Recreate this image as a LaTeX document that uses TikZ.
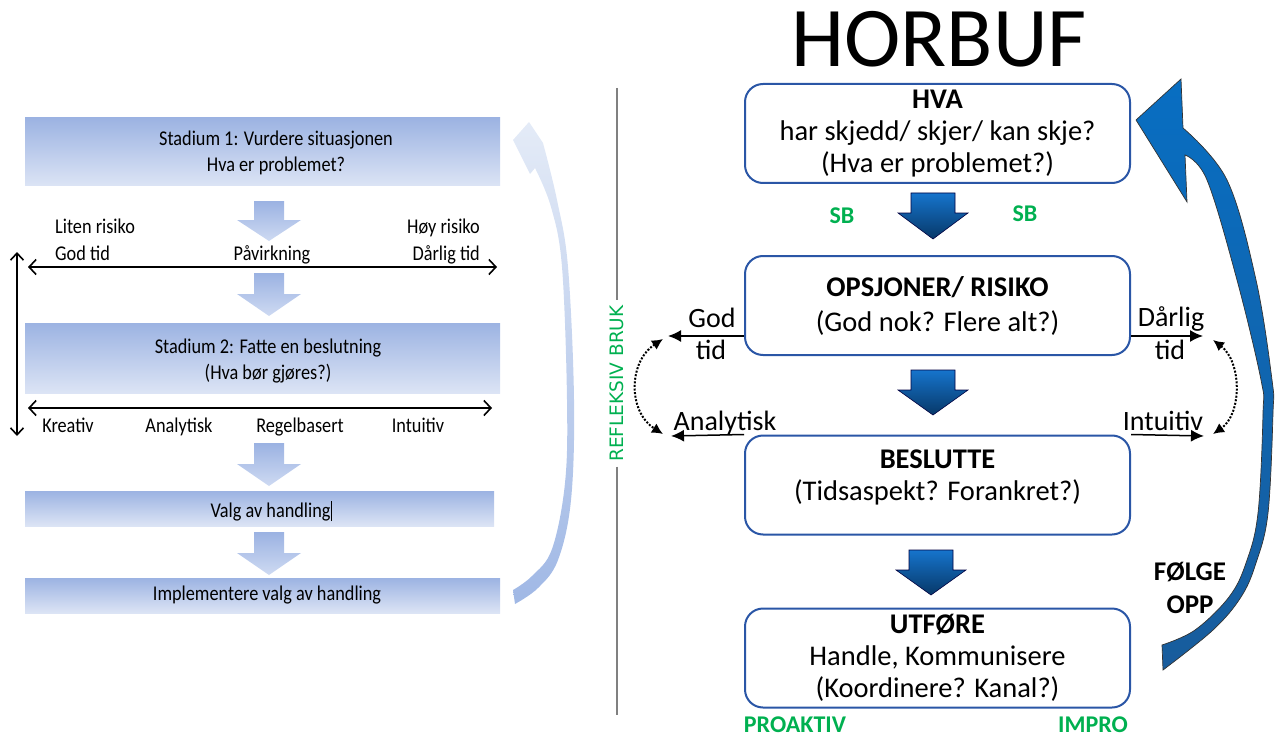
\documentclass[tikz,border=0pt]{standalone}
\usepackage{fontspec}
\setmainfont{Carlito}
\newfontfamily\condfont[FakeStretch=0.87]{Carlito}
\newfontfamily\sidefont{DejaVu Sans}
\usetikzlibrary{arrows.meta}

\definecolor{boxblue}{RGB}{42,86,166}
\definecolor{offgreen}{RGB}{0,176,80}
\definecolor{stagetop}{RGB}{156,179,226}
\definecolor{stagebot}{RGB}{220,228,245}
\definecolor{chevtop}{RGB}{155,178,226}
\definecolor{chevbot}{RGB}{206,218,242}
\definecolor{deeptop}{RGB}{22,116,204}
\definecolor{deepbot}{RGB}{7,56,104}
\definecolor{loopblue}{RGB}{8,110,194}
\definecolor{loopbluebot}{RGB}{24,92,156}
\definecolor{ghosttop}{RGB}{228,235,247}
\definecolor{ghostbot}{RGB}{160,184,229}
\definecolor{rulegray}{RGB}{128,128,128}

% downward block arrow: style, x, y, shaft half width, head half width, shaft length, total length
\newcommand\downblock[7]{%
  \path[#1, shift={(#2,#3)}] (-#4,0) -- (#4,0) -- (#4,#6) -- (#5,#6) -- (0,#7)
    -- (-#5,#6) -- (-#4,#6) -- cycle;}

\tikzset{
  stagebox/.style={minimum width=475pt, inner sep=0pt, top color=stagetop, bottom color=stagebot},
  stagetext/.style={font=\condfont\fontsize{21}{26}\selectfont, align=center, inner sep=0pt},
  leftlabel/.style={font=\condfont\fontsize{21}{26}\selectfont, inner sep=0pt},
  palechev/.style={top color=chevtop, bottom color=chevbot},
  deepchev/.style={top color=deeptop, bottom color=deepbot, draw=black!75!blue, line width=0.6pt},
  stepbox/.style={draw=boxblue, line width=2pt, rounded corners=18pt, minimum width=385pt,
    minimum height=99pt, fill=white, align=center, font=\fontsize{28.5}{32}\selectfont, inner sep=0pt},
  twoway/.style={line width=1.6pt, {Straight Barb[length=7pt,width=15pt]}-{Straight Barb[length=7pt,width=15pt]}},
  sidearrow/.style={line width=1.5pt, -{Latex[length=13pt,width=12pt]}},
  swingarrow/.style={line width=2pt, dash pattern=on 2pt off 1.6pt,
    {Latex[length=11pt,width=11pt]}-{Latex[length=11pt,width=11pt]}},
  greenlabel/.style={text=offgreen, font=\bfseries\fontsize{24}{28}\selectfont, inner sep=0pt},
  sidelabel/.style={font=\fontsize{28}{32}\selectfont, inner sep=0pt},
}

\begin{document}
\begin{tikzpicture}[x=1pt,y=-1pt]
\useasboundingbox (0,0) rectangle (1276,738);

% ---------------- left column: decision stages ----------------
\node[stagebox, minimum height=68pt] (s1) at (262.5,152) {};
\node[stagebox, minimum height=70pt] (s2) at (262.5,358) {};
\node[stagebox, minimum width=469pt, minimum height=35pt] (s3) at (259.5,508.5) {};
\node[stagebox, minimum height=35pt] (s4) at (262.5,595.5) {};

\node[stagetext] (s1t) at (276,153) {Stadium 1: Vurdere situasjonen\\Hva er problemet?};
\node[stagetext] (s2t) at (268,361) {Stadium 2: Fatte en beslutning\\(Hva bør gjøres?)};
\node[stagetext] (s3t) at (271,511) {Valg av handling\rule[-4pt]{0.8pt}{20pt}};
\node[stagetext] (s4t) at (267,595) {Implementere valg av handling};

\downblock{palechev}{269}{201}{15}{32}{19}{40}
\downblock{palechev}{269}{273}{15}{32}{21}{43}
\downblock{palechev}{269}{443}{15}{32}{21}{43}
\downblock{palechev}{269}{532}{15}{32}{21}{43}

% influence scale
\node[leftlabel, anchor=base west] (lowrisk) at (55,233.5) {Liten risiko};
\node[leftlabel, anchor=base west] (goodtime) at (55,260) {God tid};
\node[leftlabel, anchor=base] (influence) at (272,260) {Påvirkning};
\node[leftlabel, anchor=base east] (highrisk) at (480,233.5) {Høy risiko};
\node[leftlabel, anchor=base east] (badtime) at (480,260) {Dårlig tid};
\coordinate (h1l) at (28,267);
\coordinate (h1r) at (497,267);
\draw[twoway] (h1l) -- (h1r);

% decision style scale
\coordinate (h2l) at (28,408);
\coordinate (h2r) at (492,408);
\draw[twoway] (h2l) -- (h2r);
\node[leftlabel, anchor=base] (kreativ) at (68,432) {Kreativ};
\node[leftlabel, anchor=base] (analyt) at (179,432) {Analytisk};
\node[leftlabel, anchor=base] (regel) at (300,432) {Regelbasert};
\node[leftlabel, anchor=base] (intuit) at (418,432) {Intuitiv};

% vertical span arrow
\coordinate (vt) at (17,252);
\coordinate (vb) at (17,436);
\draw[line width=1.6pt, {Straight Barb[length=7pt,width=13pt]}-{Straight Barb[length=7pt,width=13pt]}] (vt) -- (vb);

% pale return arrow
\path[top color=ghosttop, bottom color=ghostbot]
  (513,140) -- (529,122) -- (543,143)
  -- plot[smooth, tension=0.6] coordinates {(543,143) (557,200) (568,267) (574,400) (571,500) (558,560) (538,588) (515,604)}
  -- (513,590)
  -- plot[smooth, tension=0.6] coordinates {(513,590) (532,576) (552,549) (565,483) (567,400) (562,267) (551,207) (535,168)}
  -- (530,174) -- cycle;

% ---------------- divider ----------------
\node[rotate=90, text=offgreen, font=\sidefont\fontsize{18.5}{20}\selectfont, inner sep=0pt, outer sep=5pt] (refl) at (617,383.5) {REFLEKSIV BRUK};
\coordinate (sept) at (617,88);
\coordinate (sepb) at (617,715);
\draw[rulegray, line width=1.5pt] (sept) -- (refl.east);
\draw[rulegray, line width=1.5pt] (refl.west) -- (sepb);

% ---------------- right column: HORBUF ----------------
\node[font=\fontsize{85}{90}\selectfont, anchor=base, inner sep=0pt] (title) at (939,67) {HORBUF};

\node[stepbox] (hva) at (937.5,133.5) {\textbf{HVA}\\har skjedd/ skjer/ kan skje?\\(Hva er problemet?)};
\node[stepbox] (opsj) at (937.5,305.5) {\textbf{OPSJONER/ RISIKO}\\[3pt](God nok? Flere alt?)};
\node[stepbox] (besl) at (937.5,485) {\textbf{BESLUTTE}\\(Tidsaspekt? Forankret?)\rule[-19pt]{0pt}{0pt}};
\node[stepbox] (utf) at (937.5,658) {\textbf{UTFØRE}\\Handle, Kommunisere\\(Koordinere? Kanal?)};

\downblock{deepchev}{933}{193}{22}{35}{20}{46}
\downblock{deepchev}{933}{370}{22}{35}{20}{45}
\downblock{deepchev}{931}{550}{22}{35}{20}{45}

\node[greenlabel] (sbl) at (842,216) {SB};
\node[greenlabel] (sbr) at (1025,214) {SB};
\node[greenlabel] (proaktiv) at (795,725) {PROAKTIV};
\node[greenlabel] (impro) at (1093,725) {IMPRO};

% time pressure and decision style arrows
\coordinate (godtip) at (668,336);
\coordinate (badtip) at (1203,336);
\coordinate (anatip) at (671,436);
\coordinate (inttip) at (1204,436);
\draw[sidearrow] (opsj.west |- godtip) -- (godtip);
\draw[sidearrow] (opsj.east |- badtip) -- (badtip);
\draw[sidearrow] (besl.north west) -- (anatip);
\draw[sidearrow] (besl.north east) -- (inttip);

\node[sidelabel, anchor=base] (godw) at (712,327) {God};
\node[sidelabel, anchor=base] (godt) at (711,359) {tid};
\node[sidelabel, anchor=base] (badw) at (1171,326) {Dårlig};
\node[sidelabel, anchor=base] (badt) at (1170,359) {tid};
\node[sidelabel, anchor=base] (analw) at (725,430) {Analytisk};
\node[sidelabel, anchor=base] (intw) at (1163,430) {Intuitiv};

% dotted swing between the two scales
\coordinate (lsa) at (663,339);
\coordinate (lsb) at (663,434);
\coordinate (rsa) at (1213,340);
\coordinate (rsb) at (1213,434);
\draw[swingarrow] (lsa) .. controls (628,362) and (628,412) .. (lsb);
\draw[swingarrow] (rsa) .. controls (1242,362) and (1242,414) .. (rsb);

% follow-up loop arrow
\path[top color=loopblue, bottom color=loopbluebot, draw=black!80, line width=0.7pt]
  (1136,120) -- (1181,79) -- (1183,128)
  -- plot[smooth, tension=0.6] coordinates {(1183,128) (1227,180) (1256,280) (1272,380) (1273,413) (1268,513) (1256,563) (1241,597) (1213,630) (1163,670)}
  -- (1162,645)
  -- plot[smooth, tension=0.6] coordinates {(1162,645) (1195,630) (1229,597) (1246,563) (1258,513) (1263,413) (1261,380) (1237,280) (1207,180) (1185,155)}
  -- (1187,202) -- cycle;
\node[font=\bfseries\fontsize{27}{33}\selectfont, align=center, inner sep=0pt] (folge) at (1190,588) {FØLGE\\OPP};

\end{tikzpicture}
\end{document}
